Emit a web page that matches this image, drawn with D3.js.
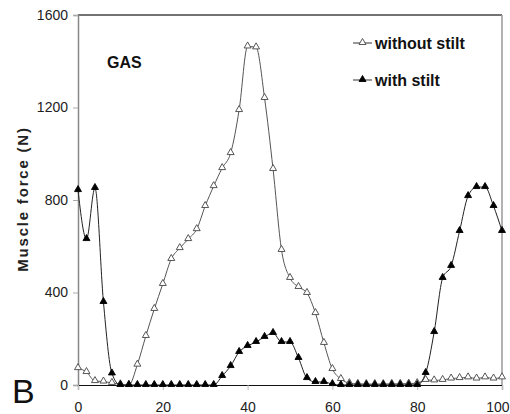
<!DOCTYPE html>
<html><head><meta charset="utf-8">
<script src="https://cdn.jsdelivr.net/npm/d3@7"></script>
<style>
html,body{margin:0;padding:0;background:#fff;}
svg{display:block;font-family:"Liberation Sans",Arial,sans-serif;}
</style></head>
<body><svg id="c" width="510" height="414"></svg>
<script>
const gaitCycle = d3.range(0, 101, 2);
const withoutStilt = [73,56,17,15,9,3,0,88,212,329,437,545,592,631,674,774,860,938,1003,1189,1464,1460,1241,934,584,463,424,398,311,182,69,26,8,5,4,4,4,5,5,6,8,22,20,22,28,30,33,28,33,28,33];
const withStilt = [843,631,852,359,50,0,0,0,0,0,0,0,0,0,0,0,0,39,82,143,169,186,208,225,186,186,117,30,13,13,4,0,0,0,0,0,0,0,0,0,0,52,229,463,515,666,817,856,856,774,666];
const xTicks = [0,20,40,60,80,100];
const yTicks = [0,400,800,1200,1600];
const seriesNames = ["without stilt","with stilt"];

const svg = d3.select("#c");
const L=78, T=15, R=502, B=385;
const x = d3.scaleLinear().domain([0,100]).range([L,R]);
const y = d3.scaleLinear().domain([0,1600]).range([B,T]);

// frame
svg.append("line").attr("x1",L).attr("x2",R).attr("y1",T).attr("y2",T).attr("stroke","#444").attr("stroke-width",1.5);
svg.append("line").attr("x1",R).attr("x2",R).attr("y1",T).attr("y2",B).attr("stroke","#999").attr("stroke-width",1.5);

// y axis
const ya = svg.append("g").attr("transform",`translate(${L},0)`)
  .call(d3.axisLeft(y).tickValues(yTicks).tickFormat(d3.format("d")).tickSize(5).tickPadding(5));
ya.select(".domain").attr("stroke","#888").attr("stroke-width",1.5);
ya.selectAll(".tick line").attr("stroke","#aaa");
ya.selectAll("text").attr("font-size",14).attr("fill","#222").attr("font-family","Liberation Sans, Arial, sans-serif");

// x axis
const xa = svg.append("g").attr("transform",`translate(0,${B})`)
  .call(d3.axisBottom(x).tickValues(xTicks).tickFormat(d3.format("d")).tickSize(5).tickPadding(12));
xa.select(".domain").attr("stroke","#111").attr("stroke-width",1.2);
xa.selectAll(".tick line").attr("stroke","#bbb");
xa.selectAll("text").attr("font-size",14).attr("fill","#222").attr("font-family","Liberation Sans, Arial, sans-serif");
// keep the last label inside the window
xa.selectAll(".tick").filter(d=>d===100).select("text").attr("text-anchor","end").attr("x",7);

const tri = d3.symbol().type(d3.symbolTriangle).size(21);
const line = d3.line().x((d,i)=>x(gaitCycle[i])).y(d=>y(d)).curve(d3.curveMonotoneX);

function drawSeries(vals, filled){
  svg.append("path").datum(vals).attr("d",line).attr("fill","none")
    .attr("stroke", filled ? "#222" : "#555").attr("stroke-width",1);
  svg.append("g").selectAll("path").data(vals).join("path")
    .attr("d",tri).attr("transform",(d,i)=>`translate(${x(gaitCycle[i])},${y(d)-0.5})`)
    .attr("fill", filled ? "#000" : "#fff").attr("stroke", filled ? "#000" : "#444").attr("stroke-width",0.9);
}
drawSeries(withoutStilt,false);
drawSeries(withStilt,true);

// legend
const leg = [{name:seriesNames[0], filled:false, y:43},{name:seriesNames[1], filled:true, y:80}];
leg.forEach(l=>{
  svg.append("line").attr("x1",353).attr("x2",372).attr("y1",l.y).attr("y2",l.y).attr("stroke","#333").attr("stroke-width",1);
  svg.append("path").attr("d",tri).attr("transform",`translate(362.5,${l.y-0.5})`)
    .attr("fill", l.filled?"#000":"#fff").attr("stroke", l.filled?"#000":"#444").attr("stroke-width",0.9);
  svg.append("text").attr("x",375).attr("y",l.y+6).attr("font-size",16).attr("font-weight","bold").attr("fill","#111").text(l.name);
});

svg.append("text").attr("x",107).attr("y",68).attr("font-size",16).attr("font-weight","bold").attr("fill","#111").text("GAS");

svg.append("text").attr("transform","translate(28,199) rotate(-90)").attr("text-anchor","middle")
  .attr("font-size",15).attr("font-weight","bold").attr("letter-spacing","1.8px").attr("fill","#222").text("Muscle force (N)");

svg.append("text").attr("x",12).attr("y",403).attr("font-size",34).attr("fill","#111").text("B");
</script></body></html>
